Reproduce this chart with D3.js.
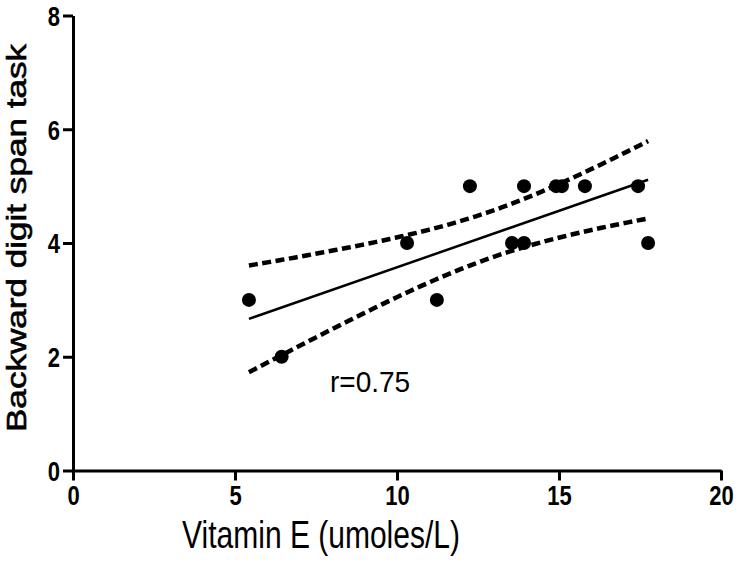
<!DOCTYPE html>
<html><head><meta charset="utf-8">
<script src="https://cdn.jsdelivr.net/npm/d3@7"></script>
<style>body{margin:0;background:#fff}svg{display:block}</style>
</head><body>
<svg id="chart" width="743" height="563"></svg>
<script>
// ---- data ----
const vitaminE  = [5.43, 6.44, 10.31, 11.23, 12.25, 13.55, 13.92, 13.92, 14.91, 15.09, 15.80, 17.44, 17.75];
const digitSpan = [3,    2,    4,     3,     5,     4,     5,     4,     5,     5,     5,     5,     4];
const xTicks = [0, 5, 10, 15, 20];
const yTicks = [0, 2, 4, 6, 8];
const xDomain = [0, 20];
const yDomain = [0, 8];
const xTitle = "Vitamin E (umoles/L)";
const yTitle = "Backward digit span task";
const rLabel = "r=0.75";
const tCrit = 2.201; // two-sided 95% t, df = n-2 = 11

const svg = d3.select("#chart");
const x = d3.scaleLinear().domain(xDomain).range([73, 721]);
const y = d3.scaleLinear().domain(yDomain).range([470.5, 15.5]);
const SY = 1.25; // vertical stretch of the original's text
const font = "Liberation Sans, Arial, sans-serif";

// ---- axes ----
const gx = svg.append("g").attr("transform", `translate(0,${y(0)})`)
  .call(d3.axisBottom(x).tickValues(xTicks).tickSize(10).tickSizeOuter(0).tickFormat(d3.format("d")));
const gy = svg.append("g").attr("transform", `translate(${x(0)},0)`)
  .call(d3.axisLeft(y).tickValues(yTicks).tickSize(10).tickSizeOuter(0).tickFormat(d3.format("d")));
[gx, gy].forEach(g => {
  g.select(".domain").attr("stroke", "#000").attr("stroke-width", 3);
  g.selectAll(".tick line").attr("stroke", "#000").attr("stroke-width", 3);
  g.selectAll(".tick text").attr("fill", "#000")
    .style("font-family", font)
    .style("font-weight", "bold").style("font-size", "22px");
});
gx.selectAll(".tick text").attr("y", 15 / SY).attr("dy", "0.71em").attr("transform", `scale(1,${SY})`);
gy.selectAll(".tick text").attr("x", -13).attr("dy", "0.36em").attr("transform", `scale(1,${SY})`);

// ---- linear fit with 95% confidence band, computed from the data ----
const n = vitaminE.length;
const mx = d3.mean(vitaminE), my = d3.mean(digitSpan);
const sxx = d3.sum(vitaminE, v => (v - mx) ** 2);
const sxy = d3.sum(vitaminE, (v, i) => (v - mx) * (digitSpan[i] - my));
const slope = sxy / sxx, intercept = my - slope * mx;
const sse = d3.sum(vitaminE, (v, i) => (digitSpan[i] - (intercept + slope * v)) ** 2);
const s = Math.sqrt(sse / (n - 2));
const [xmin, xmax] = d3.extent(vitaminE);
const xs = d3.range(0, 61).map(i => xmin + (xmax - xmin) * i / 60);
const half = v => tCrit * s * Math.sqrt(1 / n + (v - mx) ** 2 / sxx);
const line = d3.line().x(d => x(d[0])).y(d => y(d[1]));

svg.append("path").datum(xs.map(v => [v, intercept + slope * v + half(v)]))
  .attr("d", line).attr("fill", "none").attr("stroke", "#000")
  .attr("stroke-width", 4.5).attr("stroke-dasharray", "9,4.5");
svg.append("path").datum(xs.map(v => [v, intercept + slope * v - half(v)]))
  .attr("d", line).attr("fill", "none").attr("stroke", "#000")
  .attr("stroke-width", 4.5).attr("stroke-dasharray", "9,4.5");
svg.append("path").datum([[xmin, intercept + slope * xmin], [xmax, intercept + slope * xmax]])
  .attr("d", line).attr("fill", "none").attr("stroke", "#000").attr("stroke-width", 2.5);

// ---- points ----
svg.append("g").selectAll("circle").data(vitaminE).join("circle")
  .attr("cx", d => x(d)).attr("cy", (d, i) => y(digitSpan[i])).attr("r", 7).attr("fill", "#000");

// ---- titles ----
svg.append("g").attr("transform", `translate(26,238) scale(1,1.3) rotate(-90)`)
  .append("text").attr("text-anchor", "middle").style("font-family", font).style("font-size", "27px")
  .attr("stroke", "#000").attr("stroke-width", 0.6)
  .text(yTitle);
svg.append("g").attr("transform", `translate(321,548) scale(1,1.3)`)
  .append("text").attr("text-anchor", "middle").style("font-family", font).style("font-size", "30px")
  .text(xTitle);
svg.append("g").attr("transform", `translate(330,392) scale(1,1.05)`)
  .append("text").attr("text-anchor", "start").style("font-family", font).style("font-size", "28px")
  .text(rLabel);
</script>
</body></html>
